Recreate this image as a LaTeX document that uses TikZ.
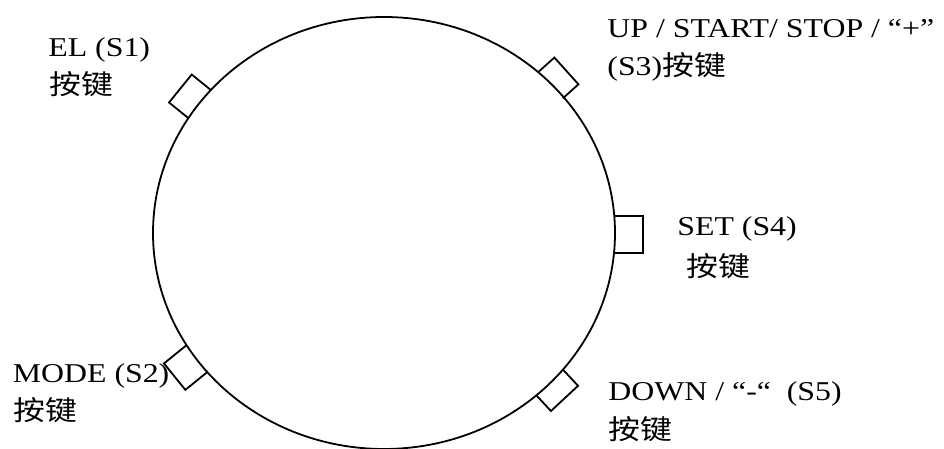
\documentclass[tikz,border=0pt]{standalone}
\usepackage{fontspec}
\setmainfont{Liberation Serif}[FakeStretch=1.17]
\newfontfamily\cjk{Noto Sans CJK SC}[FakeStretch=1.17]
\begin{document}
\begin{tikzpicture}[x=0.5pt,y=-0.5pt,
  lbl/.style={anchor=base west,inner sep=0pt,font=\fontsize{13.6}{19}\selectfont},
  btn/.style={line width=0.9pt}]
\useasboundingbox (0,0) rectangle (944,449);
\draw[line width=0.9pt] (384,233) ellipse [x radius=115.5pt, y radius=108pt];
\foreach \t/\th/\w/\h in {143.2/141/24/36, 43.5/42/20/36, -0.4/0/28/37, 215.7/219/28/34, -44/-47/21/37}{
  \begin{scope}[shift={({384+231*cos(\t)},{233-216*sin(\t)})}, rotate=\th]
    \draw[btn] (-1,-\h/2) -- (\w,-\h/2) -- (\w,\h/2) -- (-1,\h/2);
  \end{scope}
}
\node[lbl] (s1a) at (48,56.5) {EL (S1)};
\node[lbl] (s1b) at (49,94.5) {\cjk 按键};
\node[lbl] (s3a) at (607,37.3) {UP / START/ STOP / “+”};
\node[lbl] (s3b) at (607,75.7) {(S3){\cjk 按键}};
\node[lbl] (s4a) at (677,235) {SET (S4)};
\node[lbl] (s4b) at (686,277) {\cjk 按键};
\node[lbl] (s2a) at (12.5,382) {MODE (S2)};
\node[lbl] (s2b) at (13,420) {\cjk 按键};
\node[lbl] (s5a) at (608,400.7) {DOWN / “-“\ \ (S5)};
\node[lbl] (s5b) at (608,439) {\cjk 按键};
\end{tikzpicture}
\end{document}
